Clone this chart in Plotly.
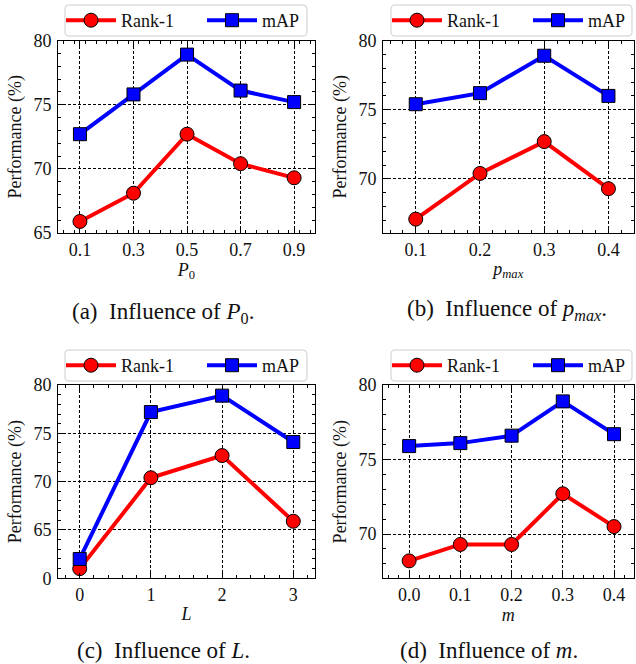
import plotly.graph_objects as go

# ---------------- data ----------------
p0_x = [0.1, 0.3, 0.5, 0.7, 0.9]
p0_rank1 = [65.9, 68.1, 72.7, 70.4, 69.3]
p0_map = [72.7, 75.8, 78.9, 76.1, 75.2]

pmax_x = [0.1, 0.2, 0.3, 0.4]
pmax_rank1 = [67.1, 70.4, 72.7, 69.3]
pmax_map = [75.4, 76.2, 78.9, 76.0]

L_x = [0, 1, 2, 3]
L_rank1 = [61.0, 70.4, 72.7, 65.9]
L_map = [62.0, 77.2, 78.9, 74.1]

m_x = [0.0, 0.1, 0.2, 0.3, 0.4]
m_rank1 = [68.2, 69.3, 69.3, 72.7, 70.5]
m_map = [75.9, 76.1, 76.6, 78.9, 76.7]

series_names = ["Rank-1", "mAP"]
x_titles = ["<i>P</i><sub>0</sub>", "<i>p<sub>max</sub></i>", "<i>L</i>", "<i>m</i>"]
captions = ["(a)&nbsp; Influence of <i>P</i><sub>0</sub>.",
            "(b)&nbsp; Influence of <i>p<sub>max</sub></i>.",
            "(c)&nbsp; Influence of <i>L</i>.",
            "(d)&nbsp; Influence of <i>m</i>."]
y_tickvals_c = [60, 65, 70, 75, 80]
y_ticktext_c = ["0", "65", "70", "75", "80"]

W, H = 636, 664
FONT = "Liberation Serif"
TXT = "#111111"
FS = 18

panels = [
    dict(x=p0_x, r=p0_rank1, m=p0_map, xd=(58, 315), yd=(40.5, 233), xr=[0.018, 0.978],
         yr=[65, 80], xmin=0.04, box=(65, 5, 307, 36), cap=(163, 313)),
    dict(x=pmax_x, r=pmax_rank1, m=pmax_map, xd=(383, 633.5), yd=(40.5, 233), xr=[0.049, 0.439],
         yr=[66.1, 80], xmin=0.02, box=(391, 5, 632, 36), cap=(507, 310)),
    dict(x=L_x, r=L_rank1, m=L_map, xd=(58, 315), yd=(385, 578.3), xr=[-0.305, 3.305],
         yr=[60, 80], xmin=0.2, box=(65, 350, 307, 381), cap=(163, 650)),
    dict(x=m_x, r=m_rank1, m=m_map, xd=(383, 633.5), yd=(385, 578.3), xr=[-0.051, 0.438],
         yr=[67.03, 80], xmin=0.02, box=(391, 350, 632, 381), cap=(489, 650)),
]


def rounded_box(x0, y0, x1, y1, r=4):
    # pixel coords (top-left origin) -> paper path
    def P(px, py):
        return "%.5f,%.5f" % (px / W, 1 - py / H)
    return ("M" + P(x0 + r, y0) + " L" + P(x1 - r, y0) + " Q" + P(x1, y0) + " " + P(x1, y0 + r) +
            " L" + P(x1, y1 - r) + " Q" + P(x1, y1) + " " + P(x1 - r, y1) +
            " L" + P(x0 + r, y1) + " Q" + P(x0, y1) + " " + P(x0, y1 - r) +
            " L" + P(x0, y0 + r) + " Q" + P(x0, y0) + " " + P(x0 + r, y0) + " Z")


fig = go.Figure()
layout = dict(width=W, height=H, margin=dict(l=0, r=0, t=0, b=0, autoexpand=False),
              paper_bgcolor="white", plot_bgcolor="white",
              font=dict(family=FONT, size=FS, color=TXT),
              showlegend=True, annotations=[], shapes=[])

leg_idx = 1
for i, p in enumerate(panels):
    n = "" if i == 0 else str(i + 1)
    xa, ya = "x" + n, "y" + n
    bx0, by0, bx1, by1 = p["box"]
    layout["shapes"].append(dict(type="path", path=rounded_box(bx0, by0, bx1, by1),
                                 xref="paper", yref="paper", line=dict(color="#cccccc", width=1),
                                 fillcolor="white", layer="above"))
    styles = [dict(color="#ff0000", symbol="circle", size=14, vals=p["r"], off=-4),
              dict(color="#0000ff", symbol="square", size=13, vals=p["m"], off=137)]
    for s, nm in zip(styles, series_names):
        lname = "legend" if leg_idx == 1 else "legend%d" % leg_idx
        leg_idx += 1
        fig.add_trace(go.Scatter(x=p["x"], y=s["vals"], name=nm, mode="lines+markers",
                                 line=dict(color=s["color"], width=4),
                                 marker=dict(symbol=s["symbol"], size=s["size"], color=s["color"],
                                             line=dict(color="black", width=1)),
                                 xaxis=xa, yaxis=ya, legend=lname))
        layout[lname] = dict(x=(bx0 + s["off"]) / W, y=1 - ((by0 + by1) / 2) / H,
                             xanchor="left", yanchor="middle",
                             orientation="h", bgcolor="rgba(0,0,0,0)", borderwidth=0,
                             itemwidth=50, font=dict(family=FONT, size=FS, color=TXT))
    common = dict(showline=True, linecolor="black", linewidth=1, mirror="allticks",
                  ticks="inside", ticklen=5, tickcolor="black", tickwidth=1,
                  showgrid=True, gridcolor="black", gridwidth=0.8, griddash="3px,2px",
                  zeroline=False, tickfont=dict(family=FONT, size=FS, color=TXT))
    xaxis = dict(common, domain=[p["xd"][0] / W, p["xd"][1] / W], range=p["xr"],
                 anchor=ya, tickvals=p["x"],
                 ticktext=[("%g" % v) if i in (0, 2) else ("%.1f" % v) for v in p["x"]],
                 minor=dict(dtick=p["xmin"], tick0=0, ticks="inside", ticklen=3,
                            tickcolor="black", showgrid=False),
                 title=dict(text=x_titles[i], font=dict(family=FONT, size=FS, color=TXT), standoff=3))
    yaxis = dict(common, domain=[1 - p["yd"][1] / H, 1 - p["yd"][0] / H], range=p["yr"],
                 anchor=xa, dtick=5, tick0=0, ticklabelstandoff=2,
                 minor=dict(dtick=1, tick0=0, ticks="inside", ticklen=3,
                            tickcolor="black", showgrid=False),
                 title=dict(text="Performance (%)", font=dict(family=FONT, size=FS, color=TXT),
                            standoff=7))
    if i == 2:
        yaxis["tickvals"] = y_tickvals_c
        yaxis["ticktext"] = y_ticktext_c
    layout["xaxis" + n] = xaxis
    layout["yaxis" + n] = yaxis
    layout["annotations"].append(dict(text=captions[i], x=p["cap"][0] / W, y=1 - p["cap"][1] / H,
                                      xref="paper", yref="paper", xanchor="center", yanchor="middle",
                                      showarrow=False,
                                      font=dict(family=FONT, size=23, color=TXT)))

fig.update_layout(**layout)
fig.write_html("out.html", config={"displayModeBar": False},
               post_script="document.body.style.margin='0px';")
